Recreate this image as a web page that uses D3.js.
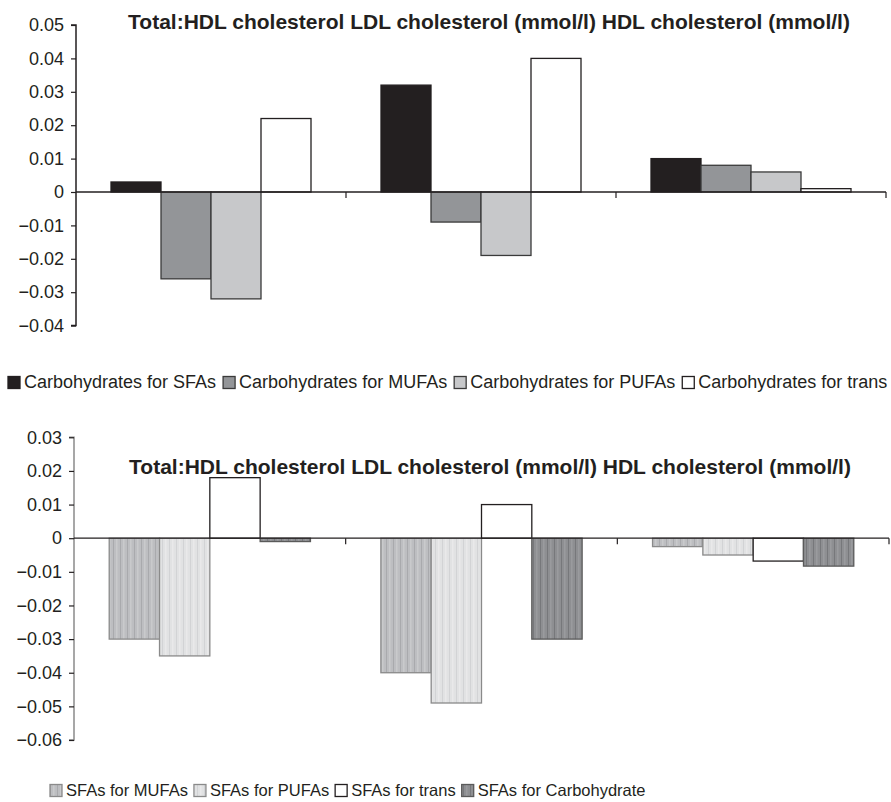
<!DOCTYPE html>
<html><head><meta charset="utf-8">
<script src="https://cdn.jsdelivr.net/npm/d3@7"></script>
<style>body{margin:0;background:#fff}svg{display:block}text{font-family:"Liberation Sans",Arial,sans-serif;fill:#231f20}</style>
</head><body>
<svg id="c" width="891" height="802"></svg>
<script>
const categories = ["Total:HDL cholesterol", "LDL cholesterol (mmol/l)", "HDL cholesterol (mmol/l)"];
const titleText = "Total:HDL cholesterol LDL cholesterol (mmol/l) HDL cholesterol (mmol/l)";

const topSeries = ["Carbohydrates for SFAs", "Carbohydrates for MUFAs", "Carbohydrates for PUFAs", "Carbohydrates for trans"];
const topValues = [
  [0.003, -0.026, -0.032, 0.022],
  [0.032, -0.009, -0.019, 0.040],
  [0.010, 0.008, 0.006, 0.001]
];
const topTicks = [0.05, 0.04, 0.03, 0.02, 0.01, 0, -0.01, -0.02, -0.03, -0.04];

const botSeries = ["SFAs for MUFAs", "SFAs for PUFAs", "SFAs for trans", "SFAs for Carbohydrate"];
const botValues = [
  [-0.030, -0.035, 0.018, -0.001],
  [-0.040, -0.049, 0.010, -0.030],
  [-0.0025, -0.005, -0.0068, -0.0083]
];
const botTicks = [0.03, 0.02, 0.01, 0, -0.01, -0.02, -0.03, -0.04, -0.05, -0.06];

const svg = d3.select("#c");
const defs = svg.append("defs");
function stripe(id, base, line, line2) {
  const p = defs.append("pattern").attr("id", id).attr("patternUnits", "userSpaceOnUse")
    .attr("width", 7).attr("height", 10);
  p.append("rect").attr("width", 7).attr("height", 10).attr("fill", base);
  p.append("rect").attr("x", 1).attr("width", 1).attr("height", 10).attr("fill", line);
  p.append("rect").attr("x", 4).attr("width", 1.5).attr("height", 10).attr("fill", line2);
}
stripe("pM", "#bdbec1", "#a9aaad", "#c9cacc");
stripe("pP", "#e1e2e3", "#d2d3d5", "#e9e9ea");
stripe("pC", "#8e8f92", "#77787b", "#9a9b9e");

const topStyle = [
  {fill: "#231f20", stroke: "#231f20"},
  {fill: "#939598", stroke: "#3a3a3a"},
  {fill: "#c7c8ca", stroke: "#3a3a3a"},
  {fill: "#ffffff", stroke: "#231f20"}
];
const botStyle = [
  {fill: "url(#pM)", stroke: "#8a8a8a"},
  {fill: "url(#pP)", stroke: "#8a8a8a"},
  {fill: "#ffffff", stroke: "#231f20"},
  {fill: "url(#pC)", stroke: "#5a5a5a"}
];

const fmt = v => v === 0 ? "0" : (v < 0 ? "\u2212" + d3.format(".2f")(-v) : d3.format(".2f")(v));

function chart(cfg) {
  const g = svg.append("g");
  const y = d3.scaleLinear().domain(cfg.domain).range(cfg.yRange);
  const x0 = d3.scaleBand().domain(categories).range(cfg.xRange).paddingInner(0).paddingOuter(0);
  const x1 = d3.scaleBand().domain(d3.range(4)).range([0, x0.bandwidth()]).paddingInner(0).paddingOuter(0.7);

  categories.forEach((c, ci) => {
    cfg.values[ci].forEach((v, si) => {
      const st = cfg.styles[si];
      g.append("rect")
        .attr("x", x0(c) + x1(si))
        .attr("y", Math.min(y(v), y(0)))
        .attr("width", x1.bandwidth())
        .attr("height", Math.abs(y(v) - y(0)))
        .attr("fill", st.fill).attr("stroke", st.stroke).attr("stroke-width", 1.3);
    });
  });

  const ya = d3.axisLeft(y).tickValues(cfg.ticks).tickFormat(fmt).tickSize(5).tickPadding(7);
  const yg = g.append("g").attr("transform", `translate(${cfg.xRange[0]},0)`).call(ya);
  yg.select(".domain").attr("stroke", cfg.axisColor).attr("stroke-width", 1.5)
    .attr("d", `M-5,${y(cfg.domain[1])}H0V${y(cfg.domain[0])}H-5`);
  yg.selectAll(".tick line").attr("stroke", "#231f20").attr("stroke-width", 1.2);
  yg.selectAll(".tick text").style("font-size", "18px").attr("fill", "#231f20");

  const xa = d3.axisBottom(x0).tickSize(0).tickFormat("");
  const xg = g.append("g").attr("transform", `translate(0,${y(0)})`).call(xa);
  xg.select(".domain").attr("stroke", "#231f20").attr("stroke-width", 1.3)
    .attr("d", `M${cfg.xRange[0]},0H${cfg.xRange[1]}`);
  categories.forEach(c => {
    g.append("line").attr("x1", x0(c) + x0.bandwidth()).attr("x2", x0(c) + x0.bandwidth())
      .attr("y1", y(0)).attr("y2", y(0) + 6).attr("stroke", "#231f20").attr("stroke-width", 1.2);
  });

  g.append("text").attr("x", cfg.titleX).attr("y", cfg.titleY).attr("text-anchor", "middle")
    .style("font-size", "21px").style("font-weight", "bold").text(titleText);

  let lx = cfg.legendX;
  cfg.series.forEach((s, si) => {
    const st = cfg.legendStyles[si];
    g.append("rect").attr("x", lx).attr("y", cfg.legendY - 11.5).attr("width", 12).attr("height", 12)
      .attr("fill", st.fill).attr("stroke", st.stroke).attr("stroke-width", 1.3);
    const t = g.append("text").attr("x", lx + 16).attr("y", cfg.legendY).style("font-size", cfg.legendSize).text(s);
    lx += 16 + t.node().getComputedTextLength() + cfg.legendGap;
  });
}

chart({
  domain: [-0.04, 0.05], yRange: [325.6, 25], xRange: [76, 886], ticks: topTicks,
  values: topValues, styles: topStyle, series: topSeries, axisColor: "#231f20",
  titleX: 489, titleY: 29, legendX: 8, legendY: 388, legendGap: 7, legendSize: "18px",
  legendStyles: [
    {fill: "#231f20", stroke: "#231f20"},
    {fill: "#939598", stroke: "#3a3a3a"},
    {fill: "#c7c8ca", stroke: "#3a3a3a"},
    {fill: "#ffffff", stroke: "#231f20"}
  ]
});
chart({
  domain: [-0.06, 0.03], yRange: [740, 437.3], xRange: [74, 889], ticks: botTicks,
  values: botValues, styles: botStyle, series: botSeries, axisColor: "#8a8a8a",
  titleX: 490, titleY: 474, legendX: 50, legendY: 796, legendGap: 6, legendSize: "16.5px",
  legendStyles: botStyle
});
</script>
</body></html>
